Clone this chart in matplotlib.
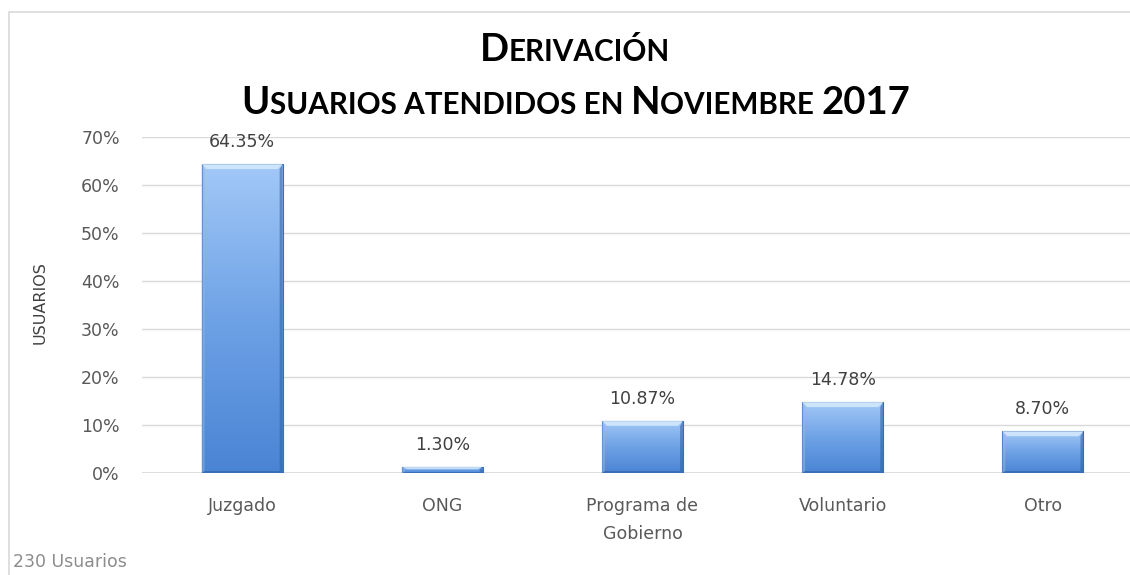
import numpy as np
import matplotlib
matplotlib.use("Agg")
import matplotlib.pyplot as plt
from matplotlib.patches import Rectangle, Polygon
from matplotlib.colors import LinearSegmentedColormap

categories = ["Juzgado", "ONG", "Programa de\nGobierno", "Voluntario", "Otro"]
values = [64.35, 1.30, 10.87, 14.78, 8.70]
value_labels = ["64.35%", "1.30%", "10.87%", "14.78%", "8.70%"]
y_ticks = [0, 10, 20, 30, 40, 50, 60, 70]
y_tick_labels = ["0%", "10%", "20%", "30%", "40%", "50%", "60%", "70%"]
title_line1 = [("D", "big"), ("ERIVACIÓN", "small")]
title_line2 = [("U", "big"), ("SUARIOS ATENDIDOS EN ", "small"), ("N", "big"),
               ("OVIEMBRE ", "small"), ("2017", "big")]
footer = "230 Usuarios"
ylabel = "USUARIOS"

W, H = 1130, 575
fig = plt.figure(figsize=(W / 100, H / 100), dpi=100)
TFONT = "Lato"
FONT = "DejaVu Sans"
GRAY = "#595959"

# chart border
fig.patches.append(Rectangle((9 / W, -0.05), 1.2, 1 - 12 / H + 0.05, transform=fig.transFigure,
                             fill=False, edgecolor="#d9d9d9", linewidth=1.2))

x0, x1 = 142, 1143
y0, y1 = 473, 137
ax = fig.add_axes([x0 / W, 1 - y0 / H, (x1 - x0) / W, (y0 - y1) / H])
ax.set_xlim(-0.5, 4.5)
ax.set_ylim(0, 70)
for s in ax.spines.values():
    s.set_visible(False)
ax.set_yticks(y_ticks)
ax.set_yticklabels(y_tick_labels, fontsize=12.5, color=GRAY, fontfamily=FONT)
ax.yaxis.grid(True, color="#d9d9d9", linewidth=1)
ax.set_axisbelow(True)
ax.axhline(0, color="#d9d9d9", linewidth=1.2, zorder=1)
ax.tick_params(axis="both", length=0)
ax.tick_params(axis="y", pad=16)
ax.tick_params(axis="x", pad=17)
xs = np.arange(len(categories))
ax.set_xticks(xs)
ax.set_xticklabels(categories, fontsize=12.5, color=GRAY, fontfamily=FONT, linespacing=1.75)

cmap = LinearSegmentedColormap.from_list("bar", ["#4a84d4", "#6ea2e6", "#a2c8f7"])
bw = 0.405
px_x = 5 / 200.0
px_y = 5 / 4.8
grad = np.linspace(0, 1, 256).reshape(-1, 1)
bars = ax.bar(xs, values, width=bw, color="none", edgecolor="#3d6fb5", linewidth=0.8, zorder=3)
for b, v in zip(bars, values):
    xl, xr = b.get_x(), b.get_x() + b.get_width()
    im = ax.imshow(grad, cmap=cmap, aspect="auto", origin="lower",
                   extent=[xl, xr, 0, v], zorder=2, interpolation="bicubic")
    im.set_clip_path(b)
    by = min(px_y, v / 2.5)
    bx = px_x
    # top bevel (light)
    ax.add_patch(Polygon([[xl, v], [xr, v], [xr - bx, v - by], [xl + bx, v - by]],
                         closed=True, facecolor="#d6ebfd", edgecolor="none", alpha=0.85, zorder=3))
    # right bevel (dark)
    ax.add_patch(Polygon([[xr, v], [xr, 0], [xr - bx * 0.6, by * 0.4], [xr - bx * 0.6, v - by]],
                         closed=True, facecolor="#2f5fa3", edgecolor="none", alpha=0.55, zorder=3))
    # bottom bevel (dark)
    ax.add_patch(Polygon([[xl, 0], [xr, 0], [xr - bx * 0.6, by * 0.4], [xl + bx * 0.6, by * 0.4]],
                         closed=True, facecolor="#2f5fa3", edgecolor="none", alpha=0.6, zorder=3))
    # left bevel (slightly light)
    ax.add_patch(Polygon([[xl, v], [xl, 0], [xl + bx * 0.6, by * 0.4], [xl + bx * 0.6, v - by]],
                         closed=True, facecolor="#8fb8ee", edgecolor="none", alpha=0.5, zorder=3))

for xi, v, lab in zip(xs, values, value_labels):
    ax.annotate(lab, (xi, v), xytext=(0, 13), textcoords="offset pixels", ha="center", va="bottom",
                fontsize=12.5, color="#404040", fontfamily=FONT)

fig.text(40 / W, 1 - 303 / H, ylabel, rotation=90, ha="center", va="center",
         fontsize=11.5, color="#404040", fontfamily=FONT)
fig.text(13 / W, 1 - 562 / H, footer, ha="left", va="center", fontsize=12.5,
         color="#8c8c8c", fontfamily=FONT)

# small-caps title
sizes = {"big": 27.5, "small": 21.3}
renderer = fig.canvas.get_renderer()


def smallcaps(segments, cx, baseline_px):
    texts = []
    for txt, kind in segments:
        t = fig.text(0, 1 - baseline_px / H, txt, fontsize=sizes[kind], fontweight="bold",
                     fontfamily=TFONT, color="#000000", ha="left", va="baseline")
        texts.append(t)
    widths = [t.get_window_extent(renderer).width for t in texts]
    total = sum(widths)
    xpos = cx - total / 2
    for t, w in zip(texts, widths):
        t.set_x(xpos / W)
        xpos += w


smallcaps(title_line1, 575, 61)
smallcaps(title_line2, 576, 114)

fig.savefig("out.png", dpi=100)
